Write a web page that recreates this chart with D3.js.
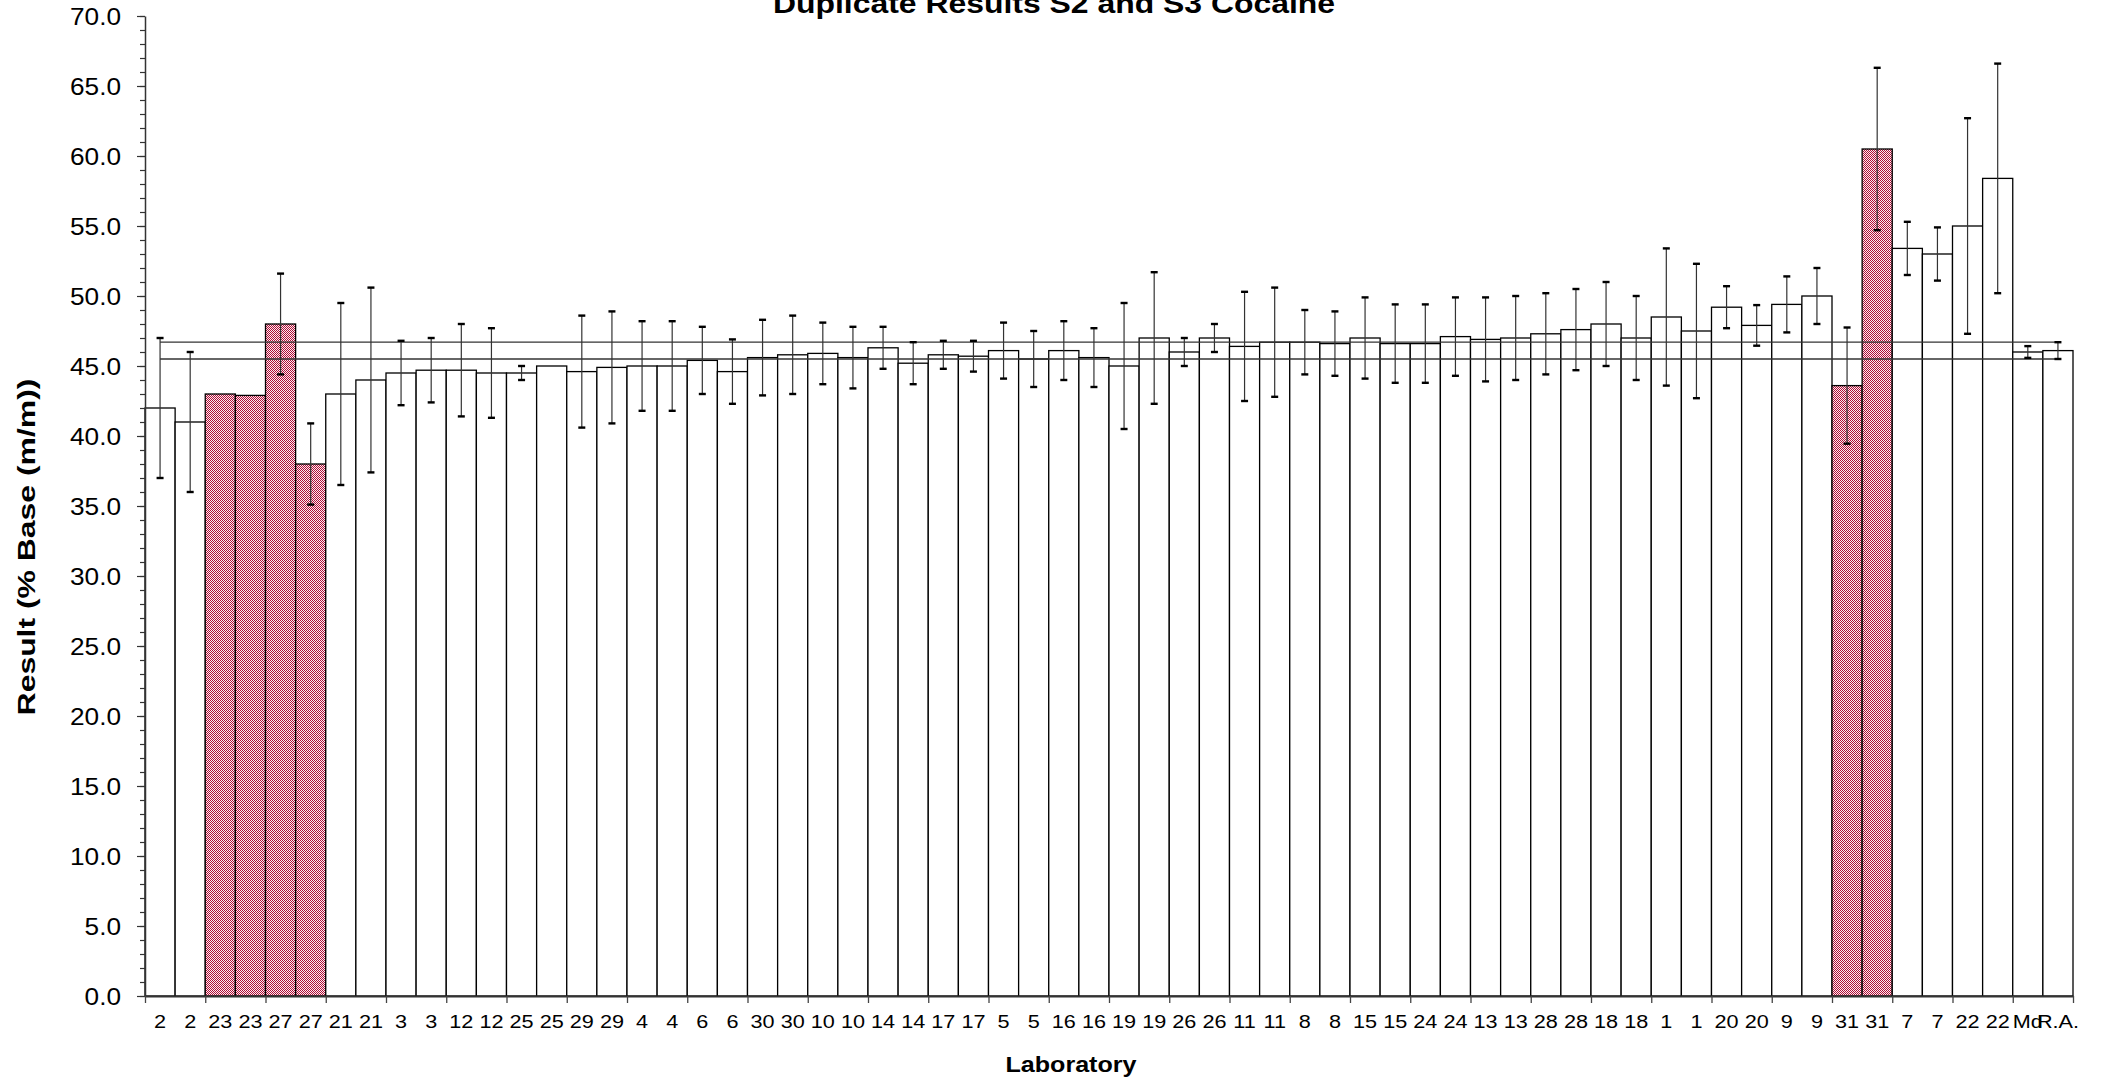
<!DOCTYPE html>
<html>
<head>
<meta charset="utf-8">
<title>Duplicate Results S2 and S3 Cocaine</title>
<script src="https://cdn.jsdelivr.net/npm/d3@7/dist/d3.min.js"></script>
<style>
  html, body { margin: 0; padding: 0; background: #ffffff; }
  svg { display: block; }
  text { font-family: "Liberation Sans", Arial, sans-serif; fill: #000; }
</style>
</head>
<body>
<svg id="chart" width="2105" height="1081"></svg>
<script>
// Laboratory codes, one per bar (duplicate determinations side by side)
const labs = ["2","2","23","23","27","27","21","21","3","3","12","12","25","25","29","29",
  "4","4","6","6","30","30","10","10","14","14","17","17","5","5","16","16",
  "19","19","26","26","11","11","8","8","15","15","24","24","13","13","28","28",
  "18","18","1","1","20","20","9","9","31","31","7","7","22","22","Md","R.A."];

// Reported result, % base (m/m)
const results = [42.0,41.0,43.0,42.9,48.0,38.0,43.0,44.0,44.5,44.7,44.7,44.5,44.5,45.0,44.6,44.9,
  45.0,45.0,45.4,44.6,45.6,45.8,45.9,45.6,46.3,45.2,45.8,45.7,46.1,45.5,46.1,45.6,
  45.0,47.0,46.0,47.0,46.4,46.7,46.7,46.6,47.0,46.6,46.6,47.1,46.9,47.0,47.3,47.6,
  48.0,47.0,48.5,47.5,49.2,47.9,49.4,50.0,43.6,60.5,53.4,53.0,55.0,58.4,46.0,46.1];

// Expanded uncertainty (half width); null where none was reported
const uncertainty = [5.0,5.0,null,null,3.6,2.9,6.5,6.6,2.3,2.3,3.3,3.2,0.5,null,4.0,4.0,
  3.2,3.2,2.4,2.3,2.7,2.8,2.2,2.2,1.5,1.5,1.0,1.1,2.0,2.0,2.1,2.1,
  4.5,4.7,1.0,1.0,3.9,3.9,2.3,2.3,2.9,2.8,2.8,2.8,3.0,3.0,2.9,2.9,
  3.0,3.0,4.9,4.8,1.5,1.45,2.0,2.0,4.15,5.8,1.9,1.9,7.7,8.2,0.42,0.6];

// Laboratories whose results are flagged
const flaggedLabs = ["23","27","31"];

// Value axis ticks
const majorTicks = d3.range(0, 70.001, 5);
const minorTicks = d3.range(0, 70.001, 1);

const svg = d3.select("#chart");
const textStretch = 1.14;

const x = d3.scaleBand().domain(d3.range(labs.length)).range([145, 2073]).padding(0);
const xEdge = d3.scaleLinear().domain([0, labs.length]).range([145, 2073]);
const y = d3.scaleLinear().domain([0, 70]).range([996, 16]);

// Checkered fill for flagged laboratories
const defs = svg.append("defs");
const pat = defs.append("pattern")
  .attr("id", "check").attr("patternUnits", "userSpaceOnUse")
  .attr("width", 2).attr("height", 2);
pat.append("rect").attr("width", 2).attr("height", 2).attr("fill", "#fbeef1");
pat.append("rect").attr("width", 1).attr("height", 1).attr("fill", "#b00c36");
pat.append("rect").attr("x", 1).attr("y", 1).attr("width", 1).attr("height", 1).attr("fill", "#b00c36");

const data = labs.map((lab, i) => ({ i, lab, v: results[i], u: uncertainty[i], flagged: flaggedLabs.includes(lab) }));

// Bars
svg.append("g").selectAll("rect").data(data).join("rect")
  .attr("x", d => x(d.i))
  .attr("y", d => y(d.v))
  .attr("width", x.bandwidth())
  .attr("height", d => y(0) - y(d.v))
  .attr("fill", d => d.flagged ? "url(#check)" : "#ffffff")
  .attr("stroke", "#000")
  .attr("stroke-width", 1.3);

// Reference band from the assigned value (R.A.) and its uncertainty
const ra = data[data.length - 1];
const refLevels = [ra.v + ra.u, ra.v - ra.u];
svg.append("g").selectAll("line").data(refLevels).join("line")
  .attr("x1", x(0) + x.bandwidth() / 2)
  .attr("x2", x(data.length - 1) + x.bandwidth() / 2)
  .attr("y1", d => y(d)).attr("y2", d => y(d))
  .attr("stroke", "#333").attr("stroke-width", 1.3);

// Error bars
const eb = svg.append("g").selectAll("g").data(data.filter(d => d.u != null)).join("g");
eb.append("line")
  .attr("x1", d => x(d.i) + x.bandwidth() / 2).attr("x2", d => x(d.i) + x.bandwidth() / 2)
  .attr("y1", d => y(d.v + d.u)).attr("y2", d => y(d.v - d.u))
  .attr("stroke", "#333").attr("stroke-width", 1.2);
[1, -1].forEach(s => {
  eb.append("line")
    .attr("x1", d => x(d.i) + x.bandwidth() / 2 - 3.5).attr("x2", d => x(d.i) + x.bandwidth() / 2 + 3.5)
    .attr("y1", d => y(d.v + s * d.u)).attr("y2", d => y(d.v + s * d.u))
    .attr("stroke", "#000").attr("stroke-width", 2.4);
});

// Y axis: minor ticks, then labelled major ticks
svg.append("g").attr("transform", "translate(145,0)")
  .call(d3.axisLeft(y).tickValues(minorTicks).tickSize(5).tickFormat(""))
  .call(g => g.select(".domain").remove())
  .selectAll("line").attr("stroke", "#333").attr("stroke-width", 1.2);

const yAxis = svg.append("g").attr("transform", "translate(145,0)")
  .call(d3.axisLeft(y).tickValues(majorTicks).tickSize(8).tickSizeOuter(0).tickFormat(d3.format(".1f")));
yAxis.select(".domain").attr("stroke", "#333").attr("stroke-width", 1.5);
yAxis.selectAll("line").attr("stroke", "#333").attr("stroke-width", 1.2);
yAxis.selectAll("text")
  .attr("font-size", 23).attr("fill", "#000")
  .attr("x", -24 / textStretch).attr("dy", "0.36em")
  .attr("transform", `scale(${textStretch},1)`);

// X axis: category labels at bar centres
const xAxis = svg.append("g").attr("transform", "translate(0,996)")
  .call(d3.axisBottom(x).tickSize(0).tickFormat(i => labs[i]));
xAxis.select(".domain").remove();
xAxis.selectAll(".tick text")
  .attr("font-size", 19).attr("fill", "#000")
  .attr("y", 32).attr("dy", 0)
  .attr("transform", `scale(${textStretch},1)`);

// X axis line with tick marks every second bar
const xTicks = svg.append("g").attr("transform", "translate(0,996)")
  .call(d3.axisBottom(xEdge).tickValues(d3.range(0, labs.length + 1, 2)).tickSize(7).tickSizeOuter(0).tickFormat(""));
xTicks.select(".domain").attr("stroke", "#333").attr("stroke-width", 2);
xTicks.selectAll("line").attr("stroke", "#444").attr("stroke-width", 1.3);

// Titles
svg.append("text")
  .attr("transform", `translate(1054,13) scale(${textStretch},1)`)
  .attr("text-anchor", "middle").attr("font-size", 28).attr("font-weight", "bold")
  .text("Duplicate Results S2 and S3 Cocaine");

svg.append("text")
  .attr("transform", `translate(1071,1072) scale(${textStretch},1)`)
  .attr("text-anchor", "middle").attr("font-size", 22).attr("font-weight", "bold")
  .text("Laboratory");

svg.append("text")
  .attr("transform", "translate(35,547) rotate(-90) scale(1.33,1)")
  .attr("text-anchor", "middle").attr("font-size", 24).attr("font-weight", "bold")
  .text("Result (% Base (m/m))");
</script>
</body>
</html>
